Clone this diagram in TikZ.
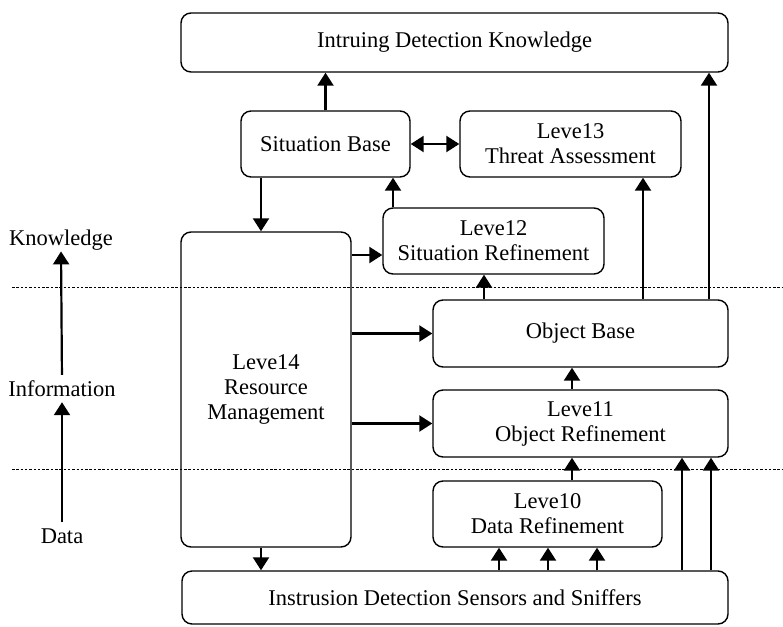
\documentclass[tikz,border=0pt]{standalone}
\usepackage{fontspec}
\setmainfont{Liberation Serif}
\usetikzlibrary{arrows.meta}
\begin{document}
\begin{tikzpicture}[x=1pt,y=-1pt,
  blk/.style={draw, rounded corners=10pt, line width=1.4pt, inner sep=0pt, align=center, font=\fontsize{22.5}{25}\selectfont},
  arr/.style={line width=2.2pt, -{Triangle[width=16pt,length=13pt]}},
  darr/.style={line width=2.2pt, {Triangle[width=16pt,length=13pt]}-{Triangle[width=16pt,length=13pt]}},
  lab/.style={font=\fontsize{22.5}{25}\selectfont, inner sep=0pt},
  sep/.style={line width=1pt, dash pattern=on 2.5pt off 1.8pt}]
\useasboundingbox (0,0) rectangle (783,626);
% boxes
\node[blk, minimum width=547pt, minimum height=59pt] (top) at (454.5,42.5) {Intruing Detection Knowledge};
\node[blk, minimum width=169pt, minimum height=66pt] (sb) at (325.5,144) {Situation Base};
\node[blk, minimum width=221pt, minimum height=66pt] (l3) at (570.5,144) {Leve13\\Threat Assessment};
\node[blk, minimum width=221pt, minimum height=66pt] (l2) at (493.5,241) {Leve12\\Situation Refinement};
\node[blk, minimum width=170pt, minimum height=315pt] (l4) at (266,389.5) {Leve14\\Resource\\Management};
\node[blk, minimum width=295pt, minimum height=67pt] (ob) at (580.5,333.5) {Object Base};
\node[blk, minimum width=295pt, minimum height=67pt] (l1) at (580.5,423.5) {Leve11\\Object Refinement};
\node[blk, minimum width=229pt, minimum height=66pt] (l0) at (547.5,514) {Leve10\\Data Refinement};
\node[blk, minimum width=546pt, minimum height=53pt] (bot) at (455,597.5) {Instrusion Detection Sensors and Sniffers};
% left labels
\node[lab] (kn) at (61,240) {Knowledge};
\node[lab] (inf) at (62,389) {Information};
\node[lab] (dat) at (62,536) {Data};
\draw[arr, shorten <=6pt, shorten >=1pt] (inf.north) -- (kn.south);
\draw[arr, shorten <=6pt, shorten >=5pt] (dat.north) -- (inf.south);
% dashed separators
\coordinate (s1a) at (12,287); \coordinate (s1b) at (783,287);
\coordinate (s2a) at (12,469); \coordinate (s2b) at (783,469);
\draw[sep] (s1a) -- (s1b);
\draw[sep] (s2a) -- (s2b);
% helper x positions
\coordinate (x261) at (261,0);
\coordinate (x393) at (393,0);
\coordinate (x484) at (484,0);
\coordinate (x572) at (572,0);
\coordinate (x643) at (643,0);
\coordinate (x709) at (709,0);
\coordinate (x499) at (499,0);
\coordinate (x548) at (548,0);
\coordinate (x597) at (597,0);
\coordinate (x682) at (682,0);
\coordinate (x711) at (711,0);
\coordinate (y255) at (0,255);
% connectors
\draw[arr] (sb.north) -- (sb.north |- top.south);
\draw[darr] (sb.east) -- (l3.west);
\draw[arr] (ob.north -| x709) -- (top.south -| x709);
\draw[arr] (ob.north -| x643) -- (l3.south -| x643);
\draw[arr] (sb.south -| x261) -- (l4.north -| x261);
\draw[arr] (l2.north -| x393) -- (sb.south -| x393);
\draw[arr] (l4.east |- y255) -- (l2.west |- y255);
\draw[arr] (l4.east |- ob.west) -- (ob.west);
\draw[arr] (l4.east |- l1.west) -- (l1.west);
\draw[arr] (ob.north -| x484) -- (l2.south -| x484);
\draw[arr] (l1.north -| x572) -- (ob.south -| x572);
\draw[arr] (l0.north -| x572) -- (l1.south -| x572);
\draw[arr] (l4.south -| x261) -- (bot.north -| x261);
\draw[arr] (bot.north -| x499) -- (l0.south -| x499);
\draw[arr] (bot.north -| x548) -- (l0.south -| x548);
\draw[arr] (bot.north -| x597) -- (l0.south -| x597);
\draw[arr] (bot.north -| x682) -- (l1.south -| x682);
\draw[arr] (bot.north -| x711) -- (l1.south -| x711);
\end{tikzpicture}
\end{document}
